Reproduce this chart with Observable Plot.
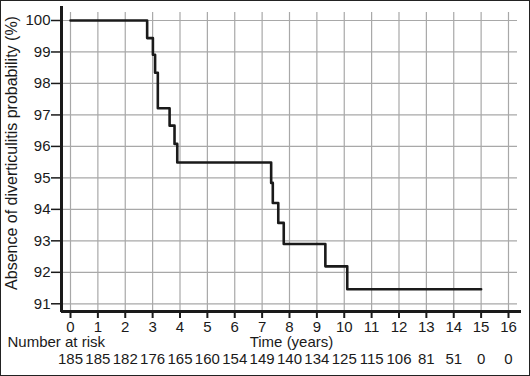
<!DOCTYPE html>
<html>
<head>
<meta charset="utf-8">
<script src="https://cdn.jsdelivr.net/npm/d3@7"></script>
<script src="https://cdn.jsdelivr.net/npm/@observablehq/plot@0.6"></script>
<style>
  html, body { margin: 0; padding: 0; background: #fff; }
  #chart svg { display: block; outline: 1px solid #222; outline-offset: -1px; }
</style>
</head>
<body>
<div id="chart"></div>
<script>
// Kaplan-Meier step data
const times = [0, 2.80, 3.01, 3.09, 3.19, 3.62, 3.80, 3.90, 7.33, 7.39, 7.59, 7.79, 9.31, 10.11, 15];
const survival = [100, 99.44, 98.91, 98.34, 97.21, 96.66, 96.08, 95.49, 94.84, 94.20, 93.57, 92.90, 92.19, 91.46, 91.46];

// Axis ticks
const xTicks = [0, 1, 2, 3, 4, 5, 6, 7, 8, 9, 10, 11, 12, 13, 14, 15, 16];
const yTicks = [91, 92, 93, 94, 95, 96, 97, 98, 99, 100];

// Number at risk per year
const atRisk = [185, 185, 182, 176, 165, 160, 154, 149, 140, 134, 125, 115, 106, 81, 51, 0, 0];

const km = times.map((t, i) => ({t, s: survival[i]}));
const risk = xTicks.map((t, i) => ({t, n: atRisk[i]}));

const xMin = -0.3288, xMax = 16.329;
const yMin = 90.755, yMax = 100.254;
const ink = "#1a1a1a";
const gridColor = "#a8a8a8";

const chart = Plot.plot({
  width: 530,
  height: 376,
  marginLeft: 61,
  marginRight: 13,
  marginTop: 12,
  marginBottom: 65,
  style: {fontFamily: "'Liberation Sans', Arial, sans-serif", fontSize: "15px", color: ink, background: "#fff"},
  x: {domain: [xMin, xMax], axis: null},
  y: {domain: [yMin, yMax], axis: null},
  marks: [
    Plot.gridX(xTicks, {stroke: gridColor, strokeOpacity: 1, strokeWidth: 1.2}),
    Plot.gridY(yTicks, {stroke: gridColor, strokeOpacity: 1, strokeWidth: 1.2}),
    Plot.line(km, {x: "t", y: "s", curve: "step-after", stroke: ink, strokeWidth: 2.6}),
    // axis lines
    Plot.ruleY([yMin], {x1: xMin, x2: 16.475, stroke: ink, strokeWidth: 3}),
    Plot.ruleX([xMin], {y1: yMin - 0.03, y2: 100.445, stroke: ink, strokeWidth: 3}),
    // ticks and labels
    Plot.axisX(xTicks, {tickSize: 7, tickPadding: 3, strokeWidth: 2, stroke: ink, fill: ink, fontSize: 15, label: null, tickFormat: d => String(d)}),
    Plot.axisY(yTicks, {tickSize: 10, tickPadding: 1, strokeWidth: 1.5, stroke: ink, fill: ink, fontSize: 15, label: null, tickFormat: d => String(d)}),
    // number at risk
    Plot.text(risk, {x: "t", text: d => String(d.n), frameAnchor: "bottom", dy: 52, fill: ink, fontSize: 15}),
    Plot.text(["Number at risk"], {frameAnchor: "bottom-left", dx: -54, dy: 35, textAnchor: "start", fill: ink, fontSize: 15}),
    Plot.text(["Time (years)"], {x: (xMin + 16.475) / 2, frameAnchor: "bottom", dy: 35, fill: ink, fontSize: 15}),
    Plot.text(["Absence of diverticulitis probability (%)"], {frameAnchor: "left", dx: -50, dy: -9, rotate: -90, textAnchor: "middle", fill: ink, fontSize: 16})
  ]
});
document.getElementById("chart").appendChild(chart);
</script>
</body>
</html>
